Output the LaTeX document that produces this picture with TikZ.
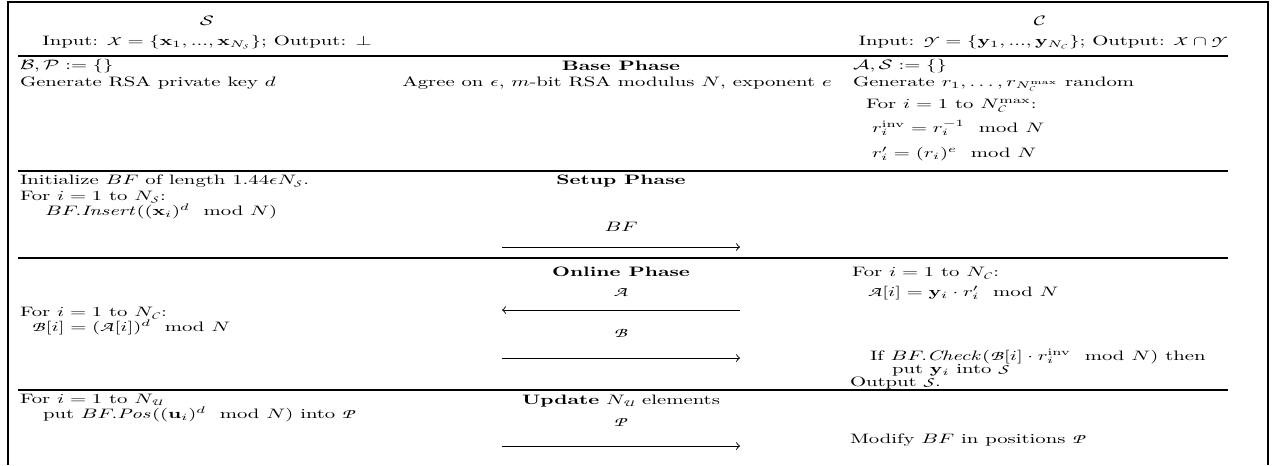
\documentclass[tikz,border=0pt]{standalone}
\usepackage{amsmath,amssymb,graphicx}
\DeclareMathAlphabet{\mathpzc}{OT1}{pzc}{m}{it}
\newcommand{\sq}[1]{\scalebox{1}[0.66]{#1}}
\begin{document}
\begin{tikzpicture}[x=0.4831pt,y=-0.4831pt,
  tl/.style={anchor=base west,inner sep=0pt,outer sep=0pt},
  tc/.style={anchor=base,inner sep=0pt,outer sep=0pt},
  hrule/.style={line width=0.6pt},
  frame/.style={line width=0.8pt},
  msg/.style={->,line width=0.45pt}]
\useasboundingbox (0,0) rectangle (1276,465);
% frame
\draw[frame] (8,465) -- (8,2) -- (1268,2) -- (1268,465);
% horizontal rules
\foreach \yy in {56,171,258,390}{\draw[hrule] (18,\yy) -- (1228,\yy);}
% headers
\node[tc] (hS) at (207,25) {\sq{$\mathcal{S}$}};
\node[tc] (hSin) at (207,45) {\sq{Input: $\mathpzc{X}=\{\mathbf{x}_1,...,\mathbf{x}_{N_{\mathpzc{S}}}\}$; Output: $\perp$}};
\node[tc] (hC) at (1040,25) {\sq{$\mathcal{C}$}};
\node[tc] (hCin) at (1043,45) {\sq{Input: $\mathpzc{Y}=\{\mathbf{y}_1,...,\mathbf{y}_{N_{\mathpzc{C}}}\}$; Output: $\mathpzc{X}\cap\mathpzc{Y}$}};
% base phase
\node[tl] (b1) at (20,69) {\sq{$\mathcal{B},\mathcal{P}:=\{\}$}};
\node[tl] (b2) at (20,86) {\sq{Generate RSA private key $d$}};
\node[tc] (bm1) at (621,70) {\sq{\textbf{Base Phase}}};
\node[tc] (bm2) at (617,86) {\sq{Agree on $\epsilon$, $m$-bit RSA modulus $N$, exponent $e$}};
\node[tl] (br1) at (853,69) {\sq{$\mathcal{A},\mathcal{S}:=\{\}$}};
\node[tl] (br2) at (853,86) {\sq{Generate $r_1,\ldots,r_{N_{\mathpzc{C}}^{\max}}$ random}};
\node[tl] (br3) at (866,108) {\sq{For $i=1$ to $N_{\mathpzc{C}}^{\max}$:}};
\node[tl] (br4) at (872,132) {\sq{$r_i^{\mathrm{inv}}=r_i^{-1}\mod N$}};
\node[tl] (br5) at (872,157) {\sq{$r'_i=(r_i)^e\mod N$}};
% setup phase
\node[tl] (s1) at (20,184) {\sq{Initialize $BF$ of length $1.44\epsilon N_{\mathpzc{S}}$.}};
\node[tl] (s2) at (20,200) {\sq{For $i=1$ to $N_{\mathpzc{S}}$:}};
\node[tl] (s3) at (45,215) {\sq{$BF.\mathit{Insert}((\mathbf{x}_i)^d\mod N)$}};
\node[tc] (sm1) at (621,184) {\sq{\textbf{Setup Phase}}};
\node[tc] (sm2) at (621,231) {\sq{$BF$}};
\coordinate (sa1) at (502,247);
\coordinate (sa2) at (740,247);
\draw[msg] (sa1) -- (sa2);
% online phase
\node[tc] (om1) at (621,276) {\sq{\textbf{Online Phase}}};
\node[tl] (or1) at (852,276) {\sq{For $i=1$ to $N_{\mathpzc{C}}$:}};
\node[tl] (or2) at (868,296) {\sq{$\mathpzc{A}[i]=\mathbf{y}_i\cdot r'_i\mod N$}};
\node[tc] (om2) at (621,296) {\sq{$\mathpzc{A}$}};
\coordinate (oa1) at (740,310);
\coordinate (oa2) at (502,310);
\draw[msg] (oa1) -- (oa2);
\node[tl] (ol1) at (20,316) {\sq{For $i=1$ to $N_{\mathpzc{C}}$:}};
\node[tl] (ol2) at (32,331) {\sq{$\mathpzc{B}[i]=(\mathpzc{A}[i])^d\mod N$}};
\node[tc] (om3) at (621,337) {\sq{$\mathpzc{B}$}};
\coordinate (ob1) at (502,358);
\coordinate (ob2) at (740,358);
\draw[msg] (ob1) -- (ob2);
\node[tl] (or3) at (870,360) {\sq{If $BF.\mathit{Check}(\mathpzc{B}[i]\cdot r_i^{\mathrm{inv}}\mod N)$ then}};
\node[tl] (or4) at (892,373) {\sq{put $\mathbf{y}_i$ into $\mathpzc{S}$}};
\node[tl] (or5) at (850,386) {\sq{Output $\mathpzc{S}$.}};
% update
\node[tl] (u1) at (20,403) {\sq{For $i=1$ to $N_{\mathpzc{U}}$}};
\node[tl] (u2) at (43,418) {\sq{put $BF.\mathit{Pos}((\mathbf{u}_i)^d\mod N)$ into $\mathpzc{P}$}};
\node[tc] (um1) at (621,404) {\sq{\textbf{Update} $N_{\mathpzc{U}}$ elements}};
\node[tc] (um2) at (621,426) {\sq{$\mathpzc{P}$}};
\coordinate (ua1) at (502,446);
\coordinate (ua2) at (740,446);
\draw[msg] (ua1) -- (ua2);
\node[tl] (ur1) at (850,443) {\sq{Modify $BF$ in positions $\mathpzc{P}$}};
\end{tikzpicture}
\end{document}
